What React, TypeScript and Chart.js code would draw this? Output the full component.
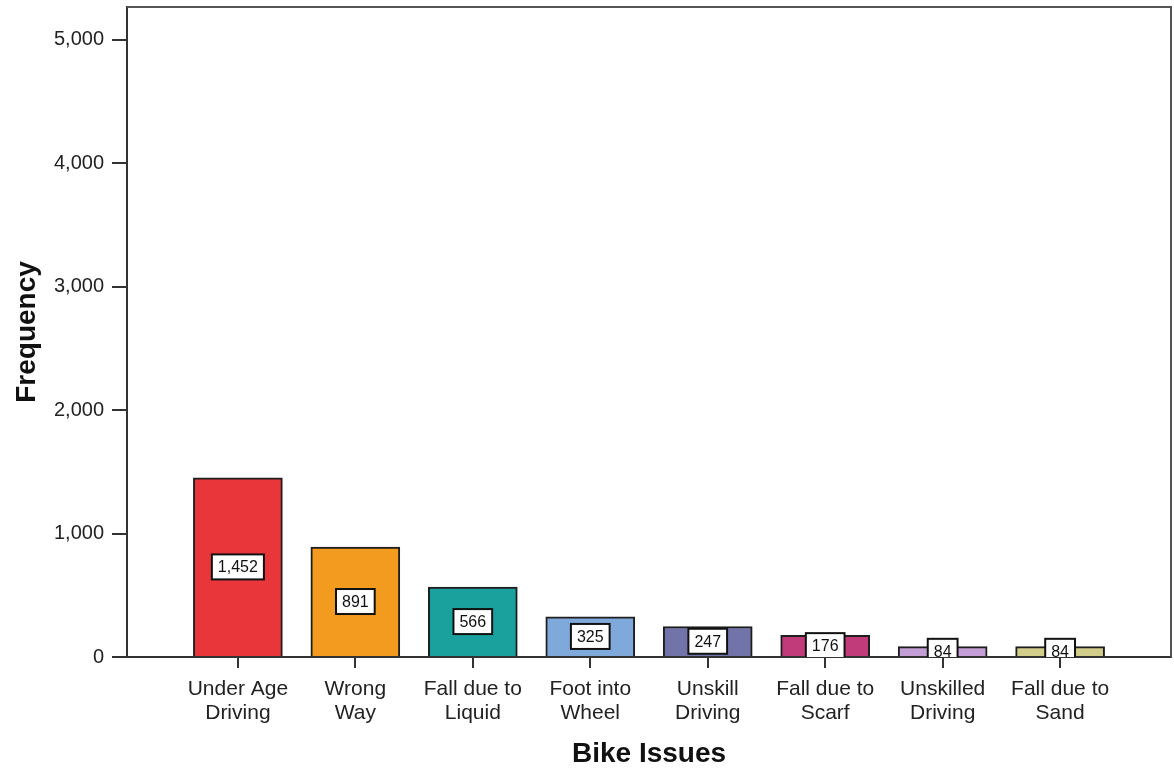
import React, { useEffect, useRef } from "react";
import { Chart, registerables } from "chart.js";

Chart.register(...registerables);

const categories: string[][] = [
  ["Under Age", "Driving"],
  ["Wrong", "Way"],
  ["Fall due to", "Liquid"],
  ["Foot into", "Wheel"],
  ["Unskill", "Driving"],
  ["Fall due to", "Scarf"],
  ["Unskilled", "Driving"],
  ["Fall due to", "Sand"],
];
const frequencies: number[] = [1452, 891, 566, 325, 247, 176, 84, 84];
const barColors: string[] = [
  "#E8363B",
  "#F29B1F",
  "#1AA19D",
  "#7EA9DA",
  "#7274A9",
  "#C13B7A",
  "#C39ED6",
  "#D3CD8C",
];
const yTickValues: number[] = [0, 1000, 2000, 3000, 4000, 5000];
const yMax = 5267;

const FONT = '"Liberation Sans", Arial, sans-serif';

const valueLabelPlugin = {
  id: "valueLabels",
  afterDatasetsDraw(chart: any) {
    const ctx = chart.ctx;
    const area = chart.chartArea;
    const meta = chart.getDatasetMeta(0);
    ctx.save();
    ctx.beginPath();
    ctx.rect(area.left, area.top, area.right - area.left, area.bottom - area.top);
    ctx.clip();
    ctx.font = `16px ${FONT}`;
    ctx.textAlign = "center";
    ctx.textBaseline = "middle";
    meta.data.forEach((bar: any, i: number) => {
      const p = bar.getProps(["x", "y", "base"], true);
      const cy = (p.y + p.base) / 2;
      const text = frequencies[i].toLocaleString("en-US");
      const w = ctx.measureText(text).width + 12;
      const h = 25;
      ctx.fillStyle = "#ffffff";
      ctx.fillRect(p.x - w / 2, cy - h / 2, w, h);
      ctx.strokeStyle = "#111111";
      ctx.lineWidth = 2;
      ctx.strokeRect(p.x - w / 2, cy - h / 2, w, h);
      ctx.fillStyle = "#111111";
      ctx.fillText(text, p.x, cy + 1);
    });
    ctx.restore();
  },
};

const framePlugin = {
  id: "frame",
  afterDraw(chart: any) {
    const ctx = chart.ctx;
    const a = chart.chartArea;
    ctx.save();
    ctx.strokeStyle = "#555555";
    ctx.lineWidth = 2;
    ctx.beginPath();
    ctx.moveTo(a.left, a.top);
    ctx.lineTo(a.right, a.top);
    ctx.lineTo(a.right, a.bottom);
    ctx.stroke();
    ctx.restore();
  },
};

export default function App() {
  const ref = useRef<HTMLCanvasElement | null>(null);
  useEffect(() => {
    document.body.style.margin = "0";
    const canvas = ref.current;
    if (!canvas) return;
    const chart = new Chart(canvas, {
      type: "bar",
      data: {
        datasets: [
          {
            data: frequencies.map((v, i) => ({ x: i, y: v })) as any,
            backgroundColor: barColors,
            borderColor: "#1e1e1e",
            borderWidth: 2,
            barThickness: 89,
          },
        ],
      },
      options: {
        animation: false,
        responsive: false,
        devicePixelRatio: 1,
        layout: { padding: { top: 7, right: 3, left: 0, bottom: 0 } },
        plugins: { legend: { display: false }, tooltip: { enabled: false } },
        scales: {
          x: {
            type: "linear",
            offset: false,
            min: -0.944,
            max: 7.944,
            afterBuildTicks: (scale: any) => {
              scale.ticks = categories.map((_, i) => ({ value: i }));
            },
            afterFit: (scale: any) => {
              scale.height = 114;
              scale.paddingLeft = 0;
              scale.paddingRight = 0;
            },
            ticks: {
              autoSkip: false,
              maxRotation: 0,
              minRotation: 0,
              padding: 9,
              color: "#222222",
              font: { family: FONT, size: 21, lineHeight: 1.15 },
              callback: (value: any) => categories[value as number] ?? "",
            },
            grid: {
              offset: false,
              drawOnChartArea: false,
              drawTicks: true,
              tickLength: 11,
              color: "#333333",
              lineWidth: 2,
            },
            border: { display: true, color: "#333333", width: 2 },
            title: {
              display: true,
              text: "Bike Issues",
              color: "#111111",
              font: { family: FONT, size: 28, weight: "bold", lineHeight: 1.2 },
              padding: { top: 0, bottom: 0 },
            },
          },
          y: {
            min: 0,
            max: yMax,
            afterBuildTicks: (scale: any) => {
              scale.ticks = yTickValues.map((v) => ({ value: v }));
            },
            afterFit: (scale: any) => {
              scale.width = 127;
              scale.paddingTop = 0;
              scale.paddingBottom = 0;
            },
            ticks: {
              padding: 8,
              color: "#222222",
              font: { family: FONT, size: 20 },
              callback: (value: any) => Number(value).toLocaleString("en-US"),
            },
            grid: {
              drawOnChartArea: false,
              drawTicks: true,
              tickLength: 15,
              color: "#333333",
              lineWidth: 2,
            },
            border: { display: true, color: "#333333", width: 2 },
            title: {
              display: true,
              text: "Frequency",
              color: "#111111",
              font: { family: FONT, size: 28, weight: "bold", lineHeight: 1.2 },
              padding: { top: 10, bottom: 0 },
            },
          },
        },
      },
      plugins: [valueLabelPlugin, framePlugin],
    });
    return () => chart.destroy();
  }, []);
  return (
    <div style={{ width: 1174, height: 771, background: "#ffffff" }}>
      <canvas ref={ref} width={1174} height={771} />
    </div>
  );
}
